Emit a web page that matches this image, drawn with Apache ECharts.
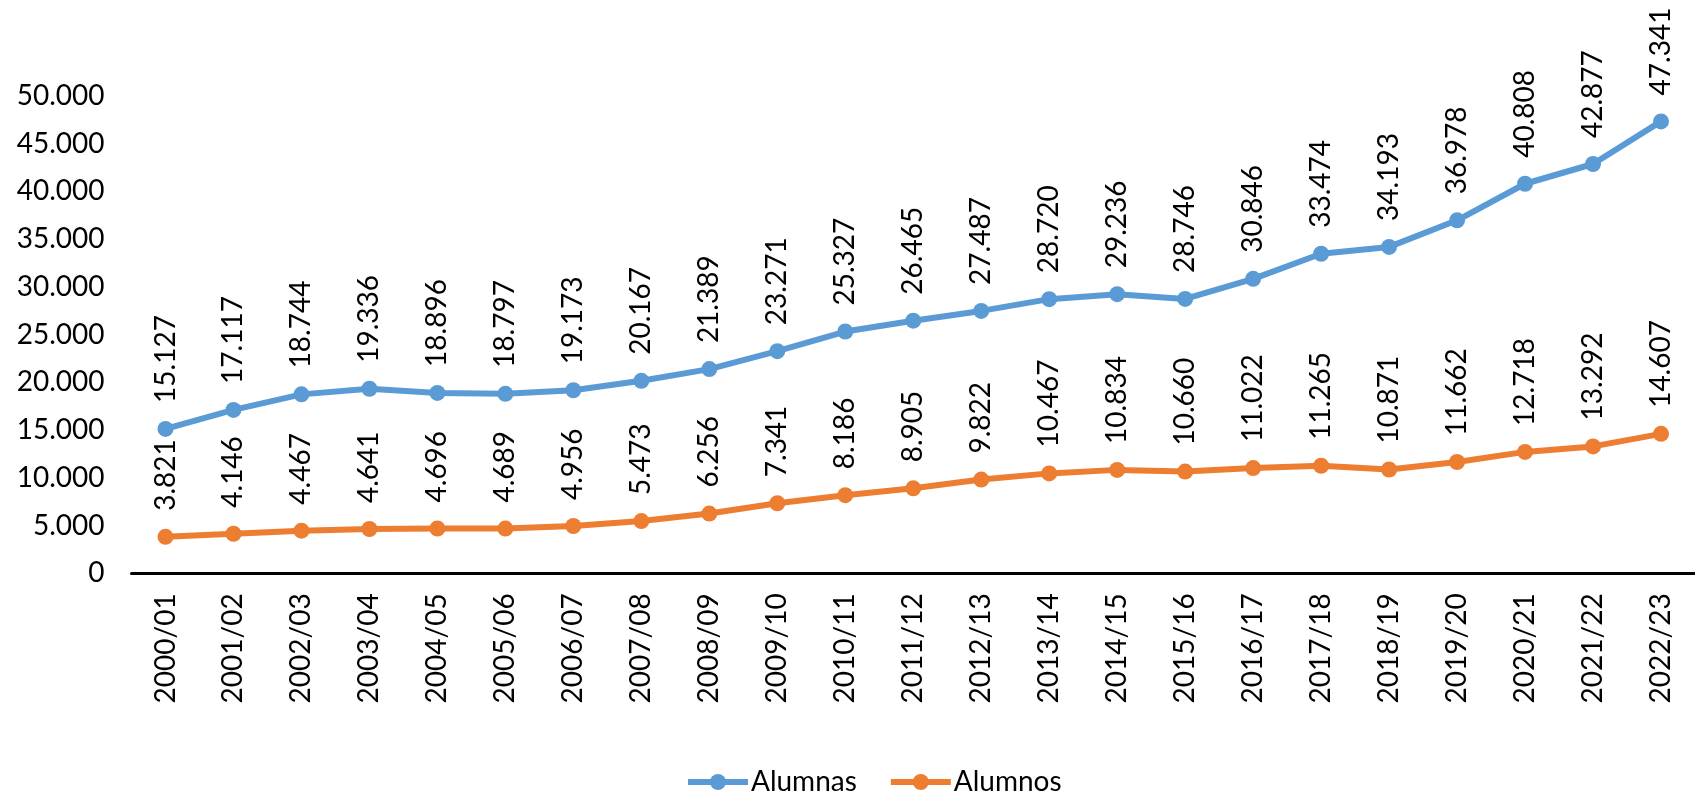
<!DOCTYPE html>
<html>
<head>
<meta charset="utf-8">
<script src="https://cdn.jsdelivr.net/npm/echarts@6/dist/echarts.min.js"></script>
<style>
  html, body { margin: 0; padding: 0; background: #fff; }
  #chart { width: 1695px; height: 796px; }
</style>
</head>
<body>
<div id="chart"></div>
<script>
// cursos académicos
const cursos = ['2000/01', '2001/02', '2002/03', '2003/04', '2004/05', '2005/06', '2006/07', '2007/08',
  '2008/09', '2009/10', '2010/11', '2011/12', '2012/13', '2013/14', '2014/15', '2015/16', '2016/17',
  '2017/18', '2018/19', '2019/20', '2020/21', '2021/22', '2022/23'];

const alumnas = [15127, 17117, 18744, 19336, 18896, 18797, 19173, 20167, 21389, 23271, 25327, 26465,
  27487, 28720, 29236, 28746, 30846, 33474, 34193, 36978, 40808, 42877, 47341];

const alumnos = [3821, 4146, 4467, 4641, 4696, 4689, 4956, 5473, 6256, 7341, 8186, 8905,
  9822, 10467, 10834, 10660, 11022, 11265, 10871, 11662, 12718, 13292, 14607];

const yMin = 0, yMax = 50000, yStep = 5000;

// miles con punto
function fmt(v) {
  return String(Math.round(v)).replace(/\B(?=(\d{3})+(?!\d))/g, '.');
}

const FONT = 'Lato';
const chart = echarts.init(document.getElementById('chart'));

function serie(name, data, color) {
  return {
    name: name,
    type: 'line',
    data: data,
    symbol: 'circle',
    symbolSize: 16,
    lineStyle: { width: 6, color: color },
    itemStyle: { color: color },
    label: {
      show: true,
      position: 'top',
      distance: 18,
      rotate: 90,
      align: 'left',
      verticalAlign: 'middle',
      fontFamily: FONT,
      fontSize: 28,
      color: '#000',
      formatter: p => fmt(p.value)
    },
    animation: false
  };
}

chart.setOption({
  backgroundColor: '#fff',
  grid: {
    left: 131.5,
    right: -7,
    top: 96,
    bottom: 222.7,
    containLabel: false
  },
  legend: {
    left: 680,
    top: 763,
    itemWidth: 60,
    itemHeight: 20,
    itemGap: 31,
    lineStyle: { width: 6 },
    textStyle: { fontFamily: FONT, fontSize: 28, color: '#000', padding: [0, 0, 0, -2] },
    data: ['Alumnas', 'Alumnos']
  },
  xAxis: {
    type: 'category',
    data: cursos,
    boundaryGap: true,
    axisLine: { show: true, lineStyle: { color: '#000', width: 3 } },
    axisTick: { show: false },
    axisLabel: {
      rotate: 90,
      margin: 20,
      interval: 0,
      fontFamily: FONT,
      fontSize: 28,
      color: '#000'
    },
    splitLine: { show: false }
  },
  yAxis: {
    type: 'value',
    min: yMin,
    max: yMax,
    interval: yStep,
    axisLine: { show: false },
    axisTick: { show: false },
    splitLine: { show: false },
    axisLabel: {
      margin: 27,
      fontFamily: FONT,
      fontSize: 28,
      color: '#000',
      formatter: v => fmt(v)
    }
  },
  series: [
    serie('Alumnas', alumnas, '#5B9BD5'),
    serie('Alumnos', alumnos, '#ED7D31')
  ]
});
</script>
</body>
</html>
